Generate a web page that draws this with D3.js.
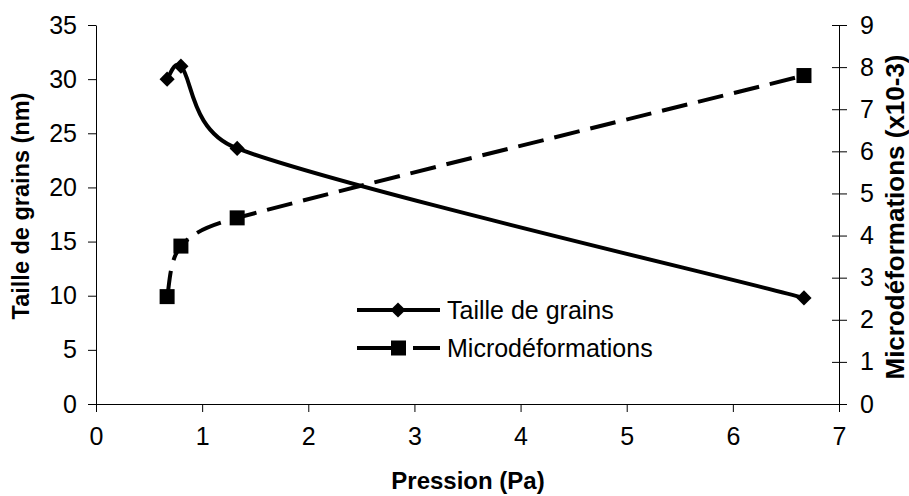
<!DOCTYPE html>
<html>
<head>
<meta charset="utf-8">
<script src="https://cdn.jsdelivr.net/npm/d3@7"></script>
<style>
  body { margin: 0; background: #fff; }
  svg { font-family: "Liberation Sans", Arial, sans-serif; }
  .tick text { font-size: 25px; fill: #000; }
  .domain, .tick line { stroke: #000; stroke-width: 1; }
</style>
</head>
<body>
<svg width="909" height="496"></svg>
<script>
// Pression (Pa)
var pression = [0.67, 0.8, 1.33, 6.67];
// Taille de grains (nm), left axis
var taille = [30, 31.2, 23.6, 9.8];
// Microdeformations (x10-3), right axis
var micro = [2.55, 3.75, 4.42, 7.8];

var xTicks = [0, 1, 2, 3, 4, 5, 6, 7];
var yLeftTicks = [0, 5, 10, 15, 20, 25, 30, 35];
var yRightTicks = [0, 1, 2, 3, 4, 5, 6, 7, 8, 9];

var svg = d3.select('svg');

var padding = {t: 25, l: 96};
var chartWidth = 839 - padding.l;
var chartHeight = 404 - padding.t;

var chartG = svg.append('g')
    .attr('transform', 'translate(' + [padding.l, padding.t] + ')');

var x = d3.scaleLinear().domain([0, 7]).range([0, chartWidth]);
var yL = d3.scaleLinear().domain([0, 35]).range([chartHeight, 0]);
var yR = d3.scaleLinear().domain([0, 9]).range([chartHeight, 0]);

// axes
chartG.append('g')
    .attr('transform', 'translate(0,' + chartHeight + ')')
    .call(d3.axisBottom(x).tickValues(xTicks).tickFormat(d3.format('d'))
        .tickSize(8).tickSizeOuter(0).tickPadding(15));

chartG.append('g')
    .call(d3.axisLeft(yL).tickValues(yLeftTicks).tickSize(8).tickSizeOuter(0).tickPadding(11));

var rightAxis = chartG.append('g')
    .attr('transform', 'translate(' + chartWidth + ',0)')
    .call(d3.axisRight(yR).tickValues(yRightTicks).tickSize(8).tickSizeOuter(0).tickPadding(13));
// right ticks cross the axis line
rightAxis.selectAll('.tick line').attr('x1', -7);

svg.selectAll('.tick text').attr('font-family', '"Liberation Sans", Arial, sans-serif');

// smoothed line, spreadsheet style: bezier, each handle capped by its own segment
function smoothPath(pts) {
    var p = d3.path();
    var n = pts.length;
    function handle(i, dir) {
        var a = pts[Math.max(i - 1, 0)], b = pts[Math.min(i + 1, n - 1)];
        var tx = (b[0] - a[0]) / 6, ty = (b[1] - a[1]) / 6;
        var len = Math.hypot(tx, ty) || 1;
        var o = dir > 0 ? b : a;
        var cap = 0.5 * Math.hypot(o[0] - pts[i][0], o[1] - pts[i][1]);
        var k = len > cap ? cap / len : 1;
        return [pts[i][0] + dir * tx * k, pts[i][1] + dir * ty * k];
    }
    p.moveTo(pts[0][0], pts[0][1]);
    for (var i = 0; i < n - 1; i++) {
        var c1 = handle(i, 1), c2 = handle(i + 1, -1);
        p.bezierCurveTo(c1[0], c1[1], c2[0], c2[1], pts[i + 1][0], pts[i + 1][1]);
    }
    return p.toString();
}

var tailleData = pression.map(function(p, i) { return [p, taille[i]]; });
var microData = pression.map(function(p, i) { return [p, micro[i]]; });

chartG.append('path')
    .attr('d', smoothPath(tailleData.map(function(d) { return [x(d[0]), yL(d[1])]; })))
    .attr('fill', 'none')
    .attr('stroke', '#000')
    .attr('stroke-width', 4);

chartG.append('path')
    .attr('d', smoothPath(microData.map(function(d) { return [x(d[0]), yR(d[1])]; })))
    .attr('fill', 'none')
    .attr('stroke', '#000')
    .attr('stroke-width', 4)
    .attr('stroke-dasharray', '26,11');

var diamond = d3.symbol().type(d3.symbolSquare).size(115);
chartG.selectAll('.dia')
    .data(tailleData)
    .enter().append('path')
    .attr('class', 'dia')
    .attr('d', diamond)
    .attr('transform', function(d) { return 'translate(' + x(d[0]) + ',' + yL(d[1]) + ') rotate(45)'; })
    .attr('fill', '#000');

chartG.selectAll('.sq')
    .data(microData)
    .enter().append('rect')
    .attr('class', 'sq')
    .attr('x', function(d) { return x(d[0]) - 7.5; })
    .attr('y', function(d) { return yR(d[1]) - 7.5; })
    .attr('width', 15)
    .attr('height', 15)
    .attr('fill', '#000');

// legend
var legendItems = ['Taille de grains', 'Microdéformations'];
var legend = svg.append('g').attr('transform', 'translate(357,310)');
legendItems.forEach(function(name, i) {
    var g = legend.append('g').attr('transform', 'translate(0,' + (i * 38) + ')');
    if (i === 0) {
        g.append('line').attr('x1', 0).attr('x2', 83).attr('y1', 0).attr('y2', 0)
            .attr('stroke', '#000').attr('stroke-width', 4);
        g.append('path').attr('d', diamond).attr('transform', 'translate(41,0) rotate(45)').attr('fill', '#000');
    } else {
        g.append('line').attr('x1', 0).attr('x2', 40).attr('y1', 0).attr('y2', 0)
            .attr('stroke', '#000').attr('stroke-width', 4);
        g.append('line').attr('x1', 56).attr('x2', 83).attr('y1', 0).attr('y2', 0)
            .attr('stroke', '#000').attr('stroke-width', 4);
        g.append('rect').attr('x', 34).attr('y', -7.5).attr('width', 15).attr('height', 15).attr('fill', '#000');
    }
    g.append('text')
        .attr('x', 90)
        .attr('y', 0)
        .attr('dy', '0.36em')
        .attr('font-size', 25)
        .text(name);
});

// axis titles
svg.append('text')
    .attr('x', 468)
    .attr('y', 489)
    .attr('text-anchor', 'middle')
    .attr('font-size', 24)
    .attr('font-weight', 'bold')
    .text('Pression (Pa)');

svg.append('text')
    .attr('transform', 'translate(29,206) rotate(-90)')
    .attr('text-anchor', 'middle')
    .attr('font-size', 23.5)
    .attr('font-weight', 'bold')
    .text('Taille de grains (nm)');

svg.append('text')
    .attr('transform', 'translate(904,217) rotate(-90)')
    .attr('text-anchor', 'middle')
    .attr('font-size', 26)
    .attr('font-weight', 'bold')
    .text('Microdéformations (x10-3)');
</script>
</body>
</html>
